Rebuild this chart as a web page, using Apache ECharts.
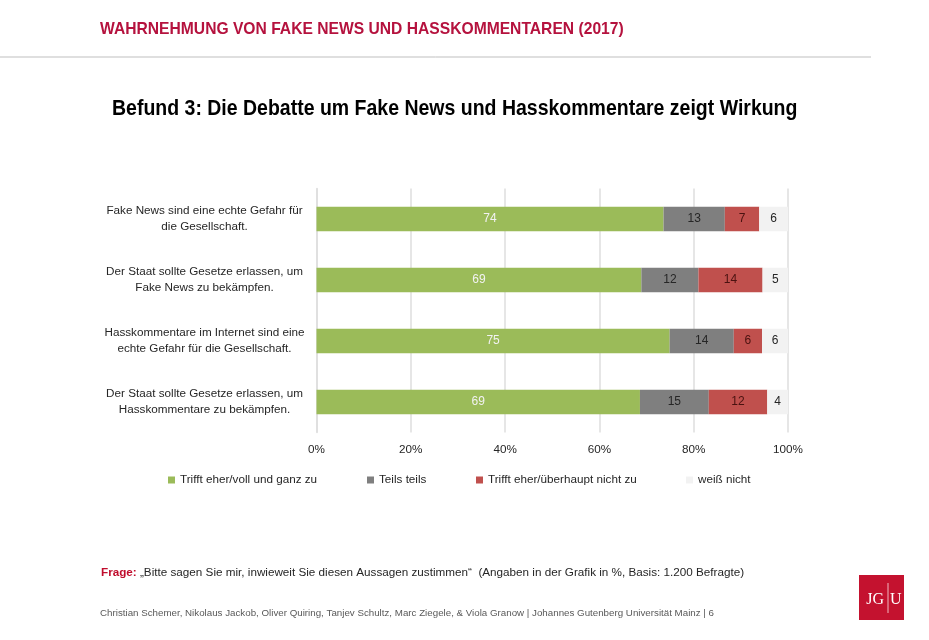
<!DOCTYPE html>
<html>
<head>
<meta charset="utf-8">
<title>Wahrnehmung von Fake News</title>
<style>
  html, body { margin: 0; padding: 0; background: #fff; }
  #chart { width: 929px; height: 640px; }
</style>
<script src="https://cdn.jsdelivr.net/npm/echarts@6/dist/echarts.min.js"></script>
</head>
<body>
<div id="chart"></div>
<script>
const categories = [
  'Fake News sind eine echte Gefahr für\ndie Gesellschaft.',
  'Der Staat sollte Gesetze erlassen, um\nFake News zu bekämpfen.',
  'Hasskommentare im Internet sind eine\nechte Gefahr für die Gesellschaft.',
  'Der Staat sollte Gesetze erlassen, um\nHasskommentare zu bekämpfen.'
];
const seriesNames = ['Trifft eher/voll und ganz zu', 'Teils teils', 'Trifft eher/überhaupt nicht zu', 'weiß nicht'];
const agree = [73.6, 68.9, 74.9, 68.6];
const partly = [13.0, 12.1, 13.6, 14.6];
const disagree = [7.3, 13.6, 6.0, 12.4];
const dontKnow = [6.1, 5.4, 5.5, 4.4];

const colors = ['#9BBB59', '#7F7F7F', '#C0504D', '#F2F2F2'];
const labelColors = ['#F2F2F2', '#262626', '#4A1210', '#262626'];
const legendLefts = [163, 362, 471, 681];
const font = '"Liberation Sans", Arial, sans-serif';
const serif = '"Liberation Serif", serif';

const chart = echarts.init(document.getElementById('chart'));

const makeSeries = (name, data, i) => ({
  name,
  type: 'bar',
  stack: 'total',
  barWidth: 24.5,
  data,
  itemStyle: { color: colors[i] },
  label: {
    show: true,
    position: 'inside',
    fontFamily: font,
    fontSize: 12,
    color: labelColors[i],
    formatter: (p) => Math.round(p.value)
  }
});

chart.setOption({
  animation: false,
  backgroundColor: '#fff',
  title: [
    {
      text: '{r|Frage:} „Bitte sagen Sie mir, inwieweit Sie diesen Aussagen zustimmen“  (Angaben in der Grafik in %, Basis: 1.200 Befragte)',
      left: 96, top: 562,
      textStyle: {
        fontFamily: font,
        fontSize: 11.7,
        fontWeight: 'normal',
        color: '#262626',
        rich: {
          r: { fontFamily: font, fontSize: 11.7, fontWeight: 'bold', color: '#C00D2D' }
        }
      }
    },
    {
      text: 'Christian Schemer, Nikolaus Jackob, Oliver Quiring, Tanjev Schultz, Marc Ziegele, & Viola Granow | Johannes Gutenberg Universität Mainz | 6',
      left: 95, top: 603,
      textStyle: { fontFamily: font, fontSize: 9.75, fontWeight: 'normal', color: '#595959' }
    }
  ],
  legend: seriesNames.map((name, i) => ({
    data: [name],
    left: legendLefts[i],
    top: 469,
    itemWidth: 7,
    itemHeight: 7,
    itemGap: 0,
    icon: 'rect',
    selectedMode: false,
    textStyle: { fontFamily: font, fontSize: 11.7, color: '#262626' }
  })),
  grid: { left: 316.5, top: 188.5, width: 471.5, height: 244 },
  xAxis: {
    type: 'value',
    min: 0,
    max: 100,
    interval: 20,
    axisLine: { show: false },
    axisTick: { show: false },
    axisLabel: {
      formatter: '{value}%',
      fontFamily: font,
      fontSize: 11.7,
      color: '#262626',
      margin: 11
    },
    splitLine: { lineStyle: { color: '#DEDEDE', width: 1.5 } }
  },
  yAxis: {
    type: 'category',
    inverse: true,
    data: categories,
    axisLine: { lineStyle: { color: '#DEDEDE', width: 1.5 } },
    axisTick: { show: false },
    axisLabel: {
      align: 'center',
      margin: 112,
      lineHeight: 16,
      fontFamily: font,
      fontSize: 11.7,
      color: '#262626'
    }
  },
  series: [agree, partly, disagree, dontKnow].map((d, i) => makeSeries(seriesNames[i], d, i)),
  graphic: [
    {
      type: 'text', x: 100, y: 29, scaleX: 0.92,
      style: { text: 'WAHRNEHMUNG VON FAKE NEWS UND HASSKOMMENTAREN (2017)', verticalAlign: 'middle', fontFamily: font, fontSize: 17, fontWeight: 'bold', fill: '#B5123E' }
    },
    {
      type: 'text', x: 112, y: 109, scaleX: 0.886,
      style: { text: 'Befund 3: Die Debatte um Fake News und Hasskommentare zeigt Wirkung', verticalAlign: 'middle', fontFamily: font, fontSize: 22, fontWeight: 'bold', fill: '#000' }
    },
    { type: 'line', shape: { x1: 0, y1: 57, x2: 871, y2: 57 }, style: { stroke: '#BFBFBF', lineWidth: 1 } },
    { type: 'rect', shape: { x: 859, y: 575, width: 45, height: 45 }, style: { fill: '#C4122F' } },
    { type: 'line', shape: { x1: 888, y1: 583, x2: 888, y2: 613 }, style: { stroke: '#F0B8C0', lineWidth: 1 } },
    { type: 'text', style: { x: 884, y: 600, text: 'JG', align: 'right', verticalAlign: 'middle', fontFamily: serif, fontSize: 16, fill: '#fff' } },
    { type: 'text', style: { x: 890, y: 600, text: 'U', align: 'left', verticalAlign: 'middle', fontFamily: serif, fontSize: 16, fill: '#fff' } }
  ]
});
</script>
</body>
</html>
